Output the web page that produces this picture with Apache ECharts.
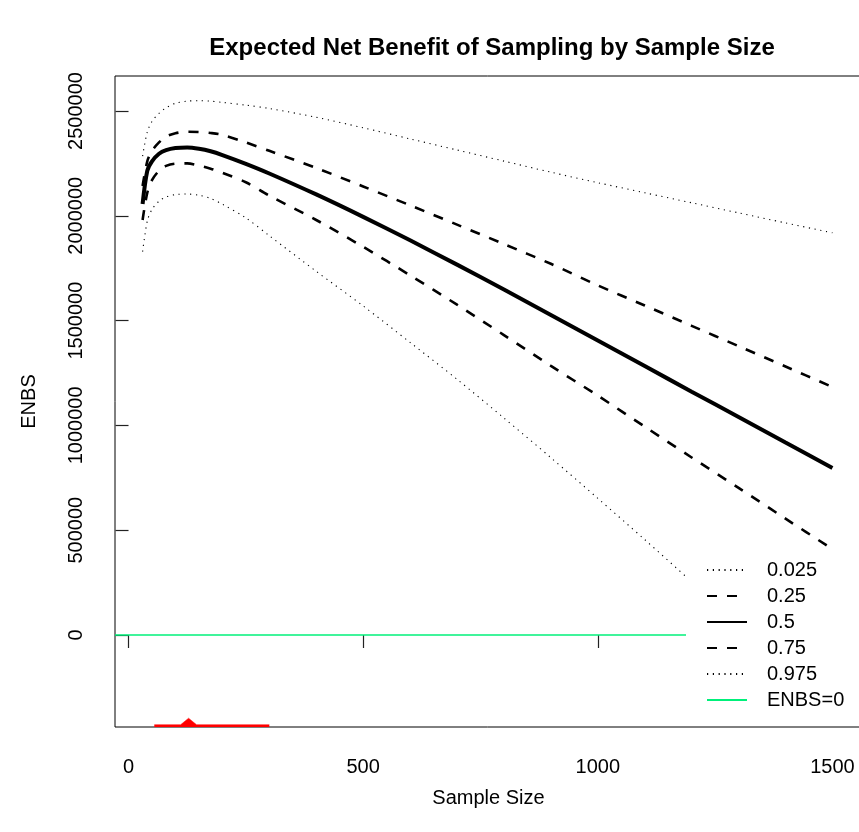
<!DOCTYPE html>
<html>
<head>
<meta charset="utf-8">
<title>Expected Net Benefit of Sampling by Sample Size</title>
<script src="https://cdn.jsdelivr.net/npm/echarts@6/dist/echarts.min.js"></script>
<style>
  html, body { margin: 0; padding: 0; background: #fff; }
  #chart { width: 859px; height: 832px; }
</style>
</head>
<body>
<div id="chart"></div>
<script>
// Sample sizes at which the ENBS quantiles are evaluated
var sampleSize = [30, 40, 50, 65, 80, 100, 125, 150, 175, 200, 250, 300, 400, 500,
                  600, 700, 800, 900, 1000, 1100, 1200, 1300, 1400, 1500];

// ENBS quantiles across the simulation
var enbsQ025 = [2285000, 2400000, 2450000, 2489000, 2515000, 2537000, 2547000, 2549000, 2547000, 2541000,
                2528000, 2512000, 2470000, 2420000, 2367000, 2314000, 2261000, 2208000, 2158000, 2110000,
                2062000, 2014000, 1966000, 1919000];
var enbsQ25  = [2142000, 2260000, 2310000, 2350000, 2378000, 2394000, 2401000, 2400000, 2395000, 2386000,
                2350000, 2310000, 2228000, 2140000, 2050000, 1958000, 1865000, 1771000, 1668000, 1572000,
                1475000, 1378000, 1281000, 1183000];
var enbsQ50  = [2056000, 2215000, 2260000, 2296000, 2313000, 2323000, 2326000, 2320000, 2308000, 2290000,
                2248000, 2202000, 2102000, 1995000, 1883000, 1767000, 1648000, 1527000, 1405000, 1283000,
                1161000, 1040000, 918000, 797000];
var enbsQ75  = [1980000, 2110000, 2170000, 2215000, 2238000, 2249000, 2250000, 2240000, 2225000, 2205000,
                2160000, 2096000, 1980000, 1852000, 1716000, 1576000, 1431000, 1284000, 1142000, 994000,
                847000, 702000, 555000, 410000];
var enbsQ975 = [1829000, 1975000, 2030000, 2070000, 2090000, 2101000, 2104000, 2098000, 2083000, 2055000,
                1990000, 1905000, 1735000, 1570000, 1396000, 1220000, 1035000, 846000, 652000, 455000,
                254000, 50000, -130000, -325000];

// Distribution of the optimal sample size, drawn along the bottom of the plot
var optimalN      = [55, 111, 128, 145, 300];
var optimalHeight = [-428000, -428000, -397000, -428000, -428000];

// Break-even reference line
var zeroLineX = [-28.8, 1563];
var zeroLineY = [0, 0];

var xTicks = [0, 500, 1000, 1500];
var yTicks = [0, 500000, 1000000, 1500000, 2000000, 2500000];

var quantileNames = ['0.025', '0.25', '0.5', '0.75', '0.975'];
var quantileData  = [enbsQ025, enbsQ25, enbsQ50, enbsQ75, enbsQ975];

function pairs(xs, ys) {
  return xs.map(function (x, i) { return [x, ys[i]]; });
}

var FONT = '"Liberation Sans", Arial, Helvetica, sans-serif';

var lineStyles = [
  { width: 1.1, type: [1.2, 4.6], color: '#000', cap: 'butt' },
  { width: 2.6, type: [10, 10], color: '#000', cap: 'butt' },
  { width: 4, type: 'solid', color: '#000' },
  { width: 2.6, type: [10, 10], color: '#000', cap: 'butt' },
  { width: 1.1, type: [1.2, 4.6], color: '#000', cap: 'butt' }
];

var series = quantileNames.map(function (name, i) {
  return {
    name: name,
    type: 'line',
    data: pairs(sampleSize, quantileData[i]),
    smooth: 0.3,
    showSymbol: false,
    symbol: 'none',
    lineStyle: lineStyles[i],
    itemStyle: { color: '#000' },
    z: 2,
    silent: true
  };
});

series.push({
  name: 'ENBS=0',
  type: 'line',
  data: pairs(zeroLineX, zeroLineY),
  showSymbol: false,
  symbol: 'none',
  lineStyle: { width: 1.3, color: '#00f07a' },
  itemStyle: { color: '#00f07a' },
  z: 2,
  silent: true
});

series.push({
  name: 'optimal',
  type: 'line',
  data: pairs(optimalN, optimalHeight),
  showSymbol: false,
  symbol: 'none',
  lineStyle: { width: 0.5, color: '#ff0000' },
  areaStyle: { color: '#ff0000', origin: 'start', opacity: 1 },
  itemStyle: { color: '#ff0000' },
  z: 3,
  silent: true
});

var plainNumber = function (v) { return String(v); };

var chart = echarts.init(document.getElementById('chart'), null, { renderer: 'canvas' });

chart.setOption({
  animation: false,
  backgroundColor: '#fff',
  title: {
    text: 'Expected Net Benefit of Sampling by Sample Size',
    left: 487,
    top: 31,
    textAlign: 'center',
    textStyle: { fontFamily: FONT, fontSize: 24, fontWeight: 'bold', color: '#000' }
  },
  grid: {
    left: 115, top: 76, width: 747, height: 651,
    outerBoundsMode: 'none',
    containLabel: false,
    show: true, borderColor: '#000', borderWidth: 1, backgroundColor: 'transparent'
  },
  legend: {
    data: quantileNames.concat(['ENBS=0']),
    orient: 'vertical',
    left: 686,
    top: 553,
    padding: [7, 40, 6, 20],
    itemWidth: 40,
    itemHeight: 20,
    itemGap: 6,
    backgroundColor: '#fff',
    selectedMode: false,
    itemStyle: { opacity: 0 },
    textStyle: { fontFamily: FONT, fontSize: 20, color: '#000', lineHeight: 20, padding: [0, 0, 0, 15] }
  },
  xAxis: {
    type: 'value',
    min: -28.8,
    max: 1563,
    name: 'Sample Size',
    nameLocation: 'middle',
    nameGap: 61,
    nameTextStyle: { fontFamily: FONT, fontSize: 20, color: '#000' },
    axisLine: { show: false },
    splitLine: { show: false },
    axisTick: { show: true, length: 13, customValues: xTicks, lineStyle: { color: '#222', width: 1.2 } },
    axisLabel: { customValues: xTicks, margin: 30, formatter: plainNumber,
                 fontFamily: FONT, fontSize: 20, color: '#000' }
  },
  yAxis: {
    type: 'value',
    min: -438931,
    max: 2666985,
    name: 'ENBS',
    nameLocation: 'middle',
    nameGap: 76,
    nameRotate: 90,
    nameTextStyle: { fontFamily: FONT, fontSize: 20, color: '#000' },
    axisLine: { show: false },
    splitLine: { show: false },
    axisTick: { show: true, length: 13, customValues: yTicks, lineStyle: { color: '#222', width: 1.2 } },
    axisLabel: { customValues: yTicks, rotate: 90, margin: 29, formatter: plainNumber,
                 fontFamily: FONT, fontSize: 20, color: '#000' }
  },
  series: series
});
</script>
</body>
</html>
